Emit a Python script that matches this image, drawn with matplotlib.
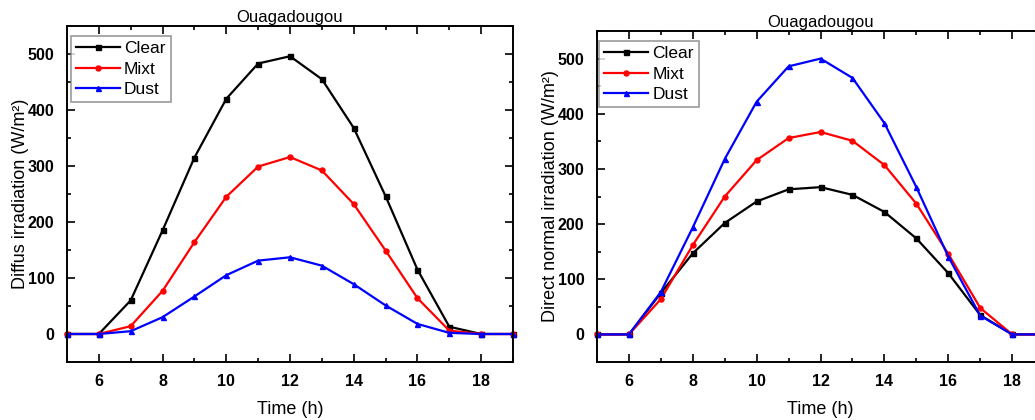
import numpy as np
import matplotlib.pyplot as plt
from matplotlib.ticker import MultipleLocator

plt.rcParams['font.family'] = ['Liberation Sans', 'DejaVu Sans']

# hours of the day
hours = np.arange(5, 20)

# diffuse irradiation (W/m2)
diff_clear = [0, 0, 60, 185, 315, 420, 483, 496, 455, 368, 246, 115, 13, 0, 0]
diff_mixt = [0, 0, 14, 77, 164, 245, 299, 316, 292, 232, 149, 64, 6, 0, 0]
diff_dust = [0, 0, 5, 30, 67, 105, 131, 137, 122, 89, 51, 18, 2, 0, 0]

# direct normal irradiation (W/m2)
dni_clear = [0, 0, 75, 147, 202, 241, 263, 267, 253, 222, 174, 111, 35, 0, 0]
dni_mixt = [0, 0, 64, 162, 250, 316, 356, 367, 351, 307, 237, 146, 48, 0, 0]
dni_dust = [0, 0, 77, 194, 318, 422, 486, 500, 465, 383, 267, 141, 34, 0, 0]

series_names = ["Clear", "Mixt", "Dust"]
colors = ["black", "red", "blue"]
markers = ["s", "o", "^"]

fig = plt.figure(figsize=(10.35, 4.2), dpi=100)
ax1 = fig.add_axes([0.0647, 0.1381, 0.431, 0.800])
ax2 = fig.add_axes([0.5768, 0.1381, 0.432, 0.788])


def draw(ax, data, ylabel, leg_pos):
    for vals, name, c, m in zip(data, series_names, colors, markers):
        ax.plot(hours, vals, color=c, marker=m, markersize=3.6, linewidth=1.6,
                label=name, clip_on=False)
    ax.set_xlim(5, 19)
    ax.set_ylim(-50, 550)
    ax.xaxis.set_major_locator(MultipleLocator(2))
    ax.xaxis.set_minor_locator(MultipleLocator(1))
    ax.yaxis.set_major_locator(MultipleLocator(100))
    ax.yaxis.set_minor_locator(MultipleLocator(50))
    ax.set_yticks(range(0, 501, 100))
    ax.tick_params(which='both', direction='in', top=True, right=True, width=1.2)
    ax.tick_params(which='major', length=6, labelsize=11.5)
    ax.tick_params(axis='x', which='major', pad=9)
    ax.tick_params(axis='y', which='major', pad=9)
    ax.tick_params(which='minor', length=3)
    for lab in ax.get_xticklabels() + ax.get_yticklabels():
        lab.set_fontweight('bold')
    for sp in ax.spines.values():
        sp.set_linewidth(1.4)
    ax.set_xlabel("Time (h)", fontsize=13, labelpad=8)
    ax.set_ylabel(ylabel, fontsize=13, labelpad=-1)
    ax.set_title("Ouagadougou", fontsize=12, pad=3)
    leg = ax.legend(loc='upper left', bbox_to_anchor=leg_pos, fontsize=12.5,
                    frameon=True, fancybox=False, edgecolor='gray',
                    handlelength=2.5, handletextpad=0.25, borderpad=0.3,
                    labelspacing=0.3, borderaxespad=0)
    leg.get_frame().set_linewidth(1.2)


draw(ax1, [diff_clear, diff_mixt, diff_dust], "Diffus irradiation (W/m²)",
     (0.009, 0.97))
draw(ax2, [dni_clear, dni_mixt, dni_dust], "Direct normal irradiation (W/m²)",
     (0.005, 0.97))

fig.savefig("out.png", dpi=100)
